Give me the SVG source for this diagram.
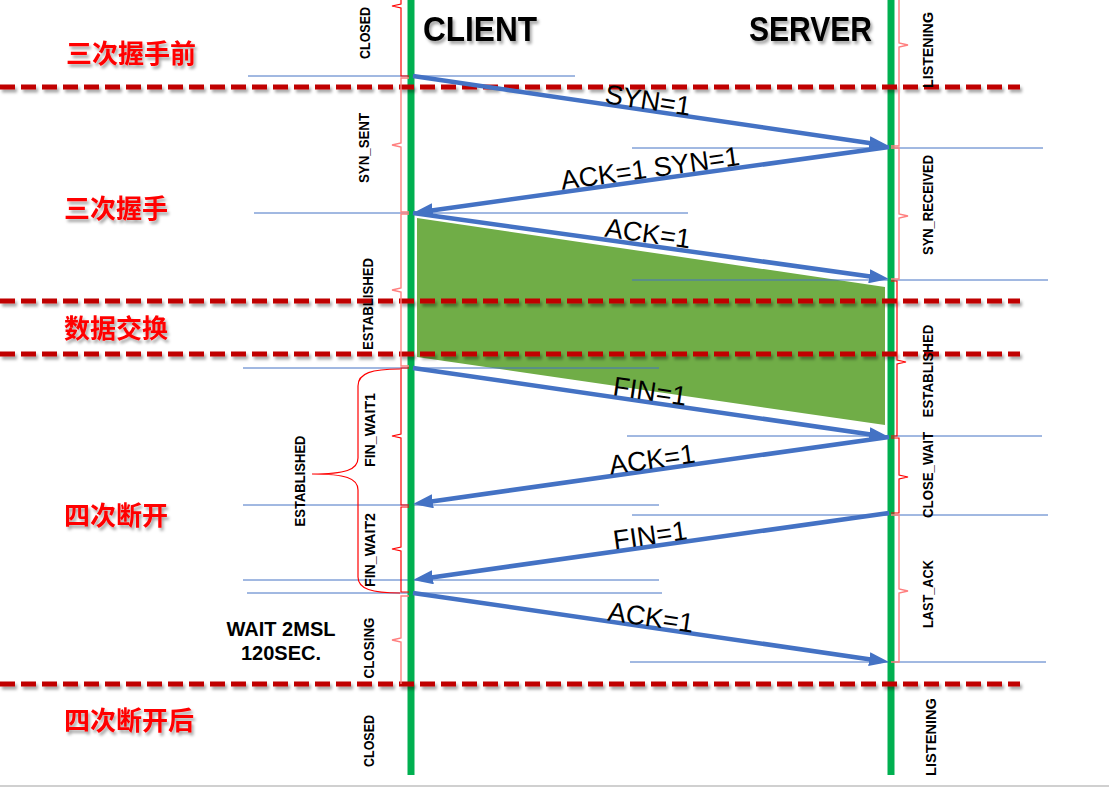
<svg xmlns="http://www.w3.org/2000/svg" width="1109" height="788" viewBox="0 0 1109 788">
<defs>
<style>
.ll{stroke:#00B050;stroke-width:7}
.dash{stroke:#C00000;stroke-width:5;stroke-dasharray:15 6;fill:none}
.thin{stroke:#4472C4;stroke-width:1}
.arr{stroke:#4472C4;stroke-width:4.5;fill:none;marker-end:url(#ah)}
.br{fill:none;stroke:#FF0000;stroke-width:1.2}
.brl{fill:none;stroke:#FF8080;stroke-width:1.4}
.st{font-family:"Liberation Sans",Arial,sans-serif;font-weight:bold;font-size:14.5px;fill:#000}
.lb{font-family:"Liberation Sans",Arial,sans-serif;font-size:27px;fill:#000;text-anchor:middle}
.ph{font-family:"Noto Sans CJK SC","Noto Sans",sans-serif;font-weight:bold;font-size:26px;fill:#FF0000}
.hd{font-family:"Liberation Sans",Arial,sans-serif;font-weight:bold;font-size:35px;fill:#000}
.wt{font-family:"Liberation Sans",Arial,sans-serif;font-weight:bold;font-size:20px;fill:#000;text-anchor:middle}
</style>
<marker id="ah" markerUnits="userSpaceOnUse" markerWidth="20" markerHeight="14" refX="12" refY="7" orient="auto">
<path d="M0,0 L20,7 L0,14 z" fill="#4472C4"/>
</marker>
<filter id="shl" filterUnits="userSpaceOnUse" x="0" y="0" width="1109" height="788">
<feDropShadow dx="2" dy="3" stdDeviation="1.5" flood-color="#000" flood-opacity="0.35"/>
</filter>
</defs>
<rect width="1109" height="788" fill="#fff"/>
<line x1="0" y1="786" x2="1109" y2="786" stroke="#D0D0D0" stroke-width="2"/>

<g id="data-exchange">
<polygon points="417,218 885,287 885,425 417,357" fill="#70AD47"/>
</g>

<g id="guides">
<line class="thin" x1="248" y1="76" x2="575" y2="76"/>
<line class="thin" x1="632" y1="148" x2="1043" y2="148"/>
<line class="thin" x1="254" y1="213" x2="688" y2="213"/>
<line class="thin" x1="632" y1="280" x2="1048" y2="280"/>
<line class="thin" x1="243" y1="368" x2="659" y2="368"/>
<line class="thin" x1="627" y1="436" x2="1042" y2="436"/>
<line class="thin" x1="243" y1="505" x2="659" y2="505"/>
<line class="thin" x1="632" y1="515" x2="1048" y2="515"/>
<line class="thin" x1="243" y1="580" x2="659" y2="580"/>
<line class="thin" x1="247" y1="593" x2="662" y2="593"/>
<line class="thin" x1="630" y1="662" x2="1046" y2="662"/>
</g>

<g id="client">
<line class="ll" x1="411" y1="0" x2="411" y2="775"/>
<text class="hd" x="423" y="41" textLength="114" lengthAdjust="spacingAndGlyphs" filter="url(#shl)">CLIENT</text>
</g>
<g id="server">
<line class="ll" x1="891" y1="0" x2="891" y2="775"/>
<text class="hd" x="749" y="41" textLength="123" lengthAdjust="spacingAndGlyphs" filter="url(#shl)">SERVER</text>
</g>

<g id="phase-lines" filter="url(#shl)">
<line class="dash" x1="0" y1="87" x2="1020" y2="87"/>
<line class="dash" x1="0" y1="301" x2="1020" y2="301"/>
<line class="dash" x1="0" y1="354" x2="1020" y2="354"/>
<line class="dash" x1="0" y1="684" x2="1020" y2="684"/>
</g>

<g id="connectors">
<line class="arr" x1="413" y1="76" x2="881.1" y2="144.8"/>
<line class="arr" x1="889" y1="147" x2="420.9" y2="211.9"/>
<line class="arr" x1="413" y1="213" x2="881.1" y2="277.9"/>
<line class="arr" x1="413" y1="368" x2="881.1" y2="435.9"/>
<line class="arr" x1="889" y1="437" x2="420.9" y2="502.9"/>
<line class="arr" x1="889" y1="513" x2="420.9" y2="578.9"/>
<line class="arr" x1="413" y1="593" x2="881.1" y2="660.9"/>
<text class="lb" transform="translate(648,100) rotate(8.4)" y="9.5">SYN=1</text>
<text class="lb" transform="translate(650,168) rotate(-7.9)" y="9.5">ACK=1 SYN=1</text>
<text class="lb" transform="translate(648,233) rotate(7.9)" y="9.5">ACK=1</text>
<text class="lb" transform="translate(650,391) rotate(8.3)" y="9.5">FIN=1</text>
<text class="lb" transform="translate(652,459) rotate(-8)" y="9.5">ACK=1</text>
<text class="lb" transform="translate(650,535) rotate(-8)" y="9.5">FIN=1</text>
<text class="lb" transform="translate(651,617) rotate(8.3)" y="9.5">ACK=1</text>
</g>

<g id="client-states">
<path class="br" d="M401,0 V4 L392,6 L401,8 V76 H409"/>
<path class="brl" d="M409,78 H401 V143 L392,145 L401,147 V212 H409"/>
<path class="brl" d="M409,214 H401 V288 L392,290 L401,292 V366 H409"/>
<path class="br" d="M409,368 H401 V434 L392,436 L401,438 V505 H409"/>
<path class="br" d="M409,507 H401 V547 L392,549 L401,551 V592 H409"/>
<path class="brl" d="M409,596 H401 V638 L392,640 L401,642 V684"/>
<path class="br" d="M400,369 C372,369 358,373 358,386 V458 C358,470 345,474 312,474 C345,474 358,478 358,490 V577 C358,589 372,593 400,593"/>
<text class="st" transform="translate(365,33) rotate(-90)" y="5.2" text-anchor="middle" textLength="52" lengthAdjust="spacingAndGlyphs">CLOSED</text>
<text class="st" transform="translate(364,148) rotate(-90)" y="5.2" text-anchor="middle" textLength="70" lengthAdjust="spacingAndGlyphs">SYN_SENT</text>
<text class="st" transform="translate(368,304) rotate(-90)" y="5.2" text-anchor="middle" textLength="92" lengthAdjust="spacingAndGlyphs">ESTABLISHED</text>
<text class="st" transform="translate(370,430) rotate(-90)" y="5.2" text-anchor="middle" textLength="74" lengthAdjust="spacingAndGlyphs">FIN_WAIT1</text>
<text class="st" transform="translate(370,550) rotate(-90)" y="5.2" text-anchor="middle" textLength="74" lengthAdjust="spacingAndGlyphs">FIN_WAIT2</text>
<text class="st" transform="translate(369,648) rotate(-90)" y="5.2" text-anchor="middle" textLength="61" lengthAdjust="spacingAndGlyphs">CLOSING</text>
<text class="st" transform="translate(369,741) rotate(-90)" y="5.2" text-anchor="middle" textLength="52" lengthAdjust="spacingAndGlyphs">CLOSED</text>
<text class="st" transform="translate(300,481) rotate(-90)" y="5.2" text-anchor="middle" textLength="91" lengthAdjust="spacingAndGlyphs">ESTABLISHED</text>
<text class="wt" x="281" y="636">WAIT 2MSL</text>
<text class="wt" x="281" y="660">120SEC.</text>
</g>

<g id="server-states">
<path class="brl" d="M899,0 V43 L908,45 L899,47 V146 H891"/>
<path class="brl" d="M891,148 H899 V214 L908,216 L899,218 V279 H891"/>
<path class="br" d="M891,281 H897 V360 L906,362 L897,364 V436 H891"/>
<path class="br" d="M891,438 H899 V475 L908,477 L899,479 V513 H891"/>
<path class="brl" d="M891,515 H899 V589 L908,591 L899,593 V662 H891"/>
<text class="st" transform="translate(928,50) rotate(-90)" y="5.2" text-anchor="middle" textLength="76" lengthAdjust="spacingAndGlyphs">LISTENING</text>
<text class="st" transform="translate(928,205) rotate(-90)" y="5.2" text-anchor="middle" textLength="100" lengthAdjust="spacingAndGlyphs">SYN_RECEIVED</text>
<text class="st" transform="translate(928,371) rotate(-90)" y="5.2" text-anchor="middle" textLength="93" lengthAdjust="spacingAndGlyphs">ESTABLISHED</text>
<text class="st" transform="translate(928,475) rotate(-90)" y="5.2" text-anchor="middle" textLength="86" lengthAdjust="spacingAndGlyphs">CLOSE_WAIT</text>
<text class="st" transform="translate(928,594) rotate(-90)" y="5.2" text-anchor="middle" textLength="68" lengthAdjust="spacingAndGlyphs">LAST_ACK</text>
<text class="st" transform="translate(931,737) rotate(-90)" y="5.2" text-anchor="middle" textLength="78" lengthAdjust="spacingAndGlyphs">LISTENING</text>
</g>

<g id="phases" filter="url(#shl)">
<text class="ph" x="66" y="63">三次握手前</text>
<text class="ph" x="64" y="218">三次握手</text>
<text class="ph" x="64" y="338">数据交换</text>
<text class="ph" x="64" y="525">四次断开</text>
<text class="ph" x="64" y="730">四次断开后</text>
</g>
</svg>
